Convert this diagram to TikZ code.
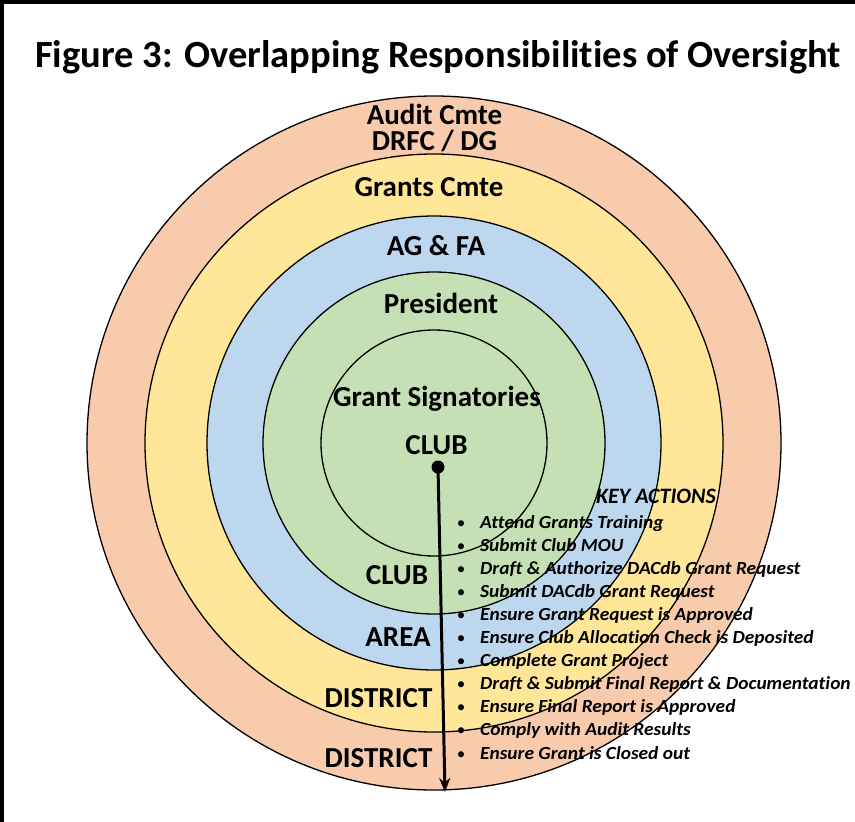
\documentclass[tikz,border=0pt]{standalone}
\usepackage{fontspec}
\setmainfont{Carlito}[Ligatures={NoCommon}]
\newfontfamily\actfont{Carlito}[Ligatures={NoCommon}, FakeStretch=1.05]
\usetikzlibrary{arrows.meta}
\definecolor{ringA}{HTML}{F8CBAD}
\definecolor{ringB}{HTML}{FFE699}
\definecolor{ringC}{HTML}{BDD7EE}
\definecolor{ringD}{HTML}{C5E0B4}
\tikzset{
  ring/.style={draw=black, line width=1.3pt},
  lbl/.style={anchor=base, inner sep=0pt, font=\fontsize{29}{29}\selectfont\bfseries},
  act/.style={anchor=base west, inner sep=0pt, font=\actfont\fontsize{18.5}{18.5}\selectfont\bfseries\itshape},
  bul/.style={anchor=base, inner sep=0pt, font=\fontsize{17}{17}\selectfont},
}
\begin{document}
\begin{tikzpicture}[x=1pt,y=-1pt]
\useasboundingbox (0,0) rectangle (855,822);
\fill[white] (0,0) rectangle (855,822);
\draw[line width=4pt] (2,822) -- (2,2) -- (855,2);
% title
\node[anchor=base, inner sep=0pt, font=\fontsize{38.5}{38.5}\selectfont\bfseries] (title) at (438,67) {Figure 3: Overlapping Responsibilities of Oversight};
% rings
\coordinate (ctr) at (434,443);
\filldraw[ring, fill=ringA] (ctr) circle[radius=347pt];
\filldraw[ring, fill=ringB] (ctr) circle[radius=289pt];
\filldraw[ring, fill=ringC] (ctr) circle[radius=227pt];
\filldraw[ring, fill=ringD] (ctr) circle[radius=171pt];
\draw[ring] (ctr) circle[radius=113pt];
% labels
\node[lbl, align=center, font=\fontsize{29}{26}\selectfont\bfseries] (audit) at (434.5,150) {Audit Cmte\\DRFC / DG};
\node[lbl] (grants) at (429,196) {Grants Cmte};
\node[lbl] (agfa) at (436,255) {AG \& FA};
\node[lbl] (pres) at (441,313) {President};
\node[lbl] (sign) at (437,406) {Grant Signatories};
\node[lbl] (club) at (436.5,454) {CLUB};
\node[lbl] (clubb) at (397,584) {CLUB};
\node[lbl] (area) at (398,646) {AREA};
\node[lbl] (dist1) at (378.5,707) {DISTRICT};
\node[lbl] (dist2) at (378.5,767) {DISTRICT};
% arrow
\node[circle, fill=black, inner sep=0pt, minimum size=13pt] (dot) at (438,467) {};
\coordinate (tip) at (445,792);
\draw[line width=3pt, -{Stealth[length=14pt,width=11pt]}] (dot.center) -- (tip);
% key actions
\node[anchor=base, inner sep=0pt, font=\fontsize{22}{22}\selectfont\bfseries\itshape] (key) at (656,503) {KEY ACTIONS};
\foreach \i/\t in {0/Attend Grants Training,
  1/Submit Club MOU,
  2/Draft \& Authorize DACdb Grant Request,
  3/Submit DACdb Grant Request,
  4/Ensure Grant Request is Approved,
  5/Ensure Club Allocation Check is Deposited,
  6/Complete Grant Project,
  7/Draft \& Submit Final Report \& Documentation,
  8/Ensure Final Report is Approved,
  9/Comply with Audit Results,
  10/Ensure Grant is Closed out}{
  \node[bul] (b\i) at (461,528+23.1*\i) {•};
  \node[act] (a\i) at (480,528+23.1*\i) {\t};
}
\end{tikzpicture}
\end{document}
